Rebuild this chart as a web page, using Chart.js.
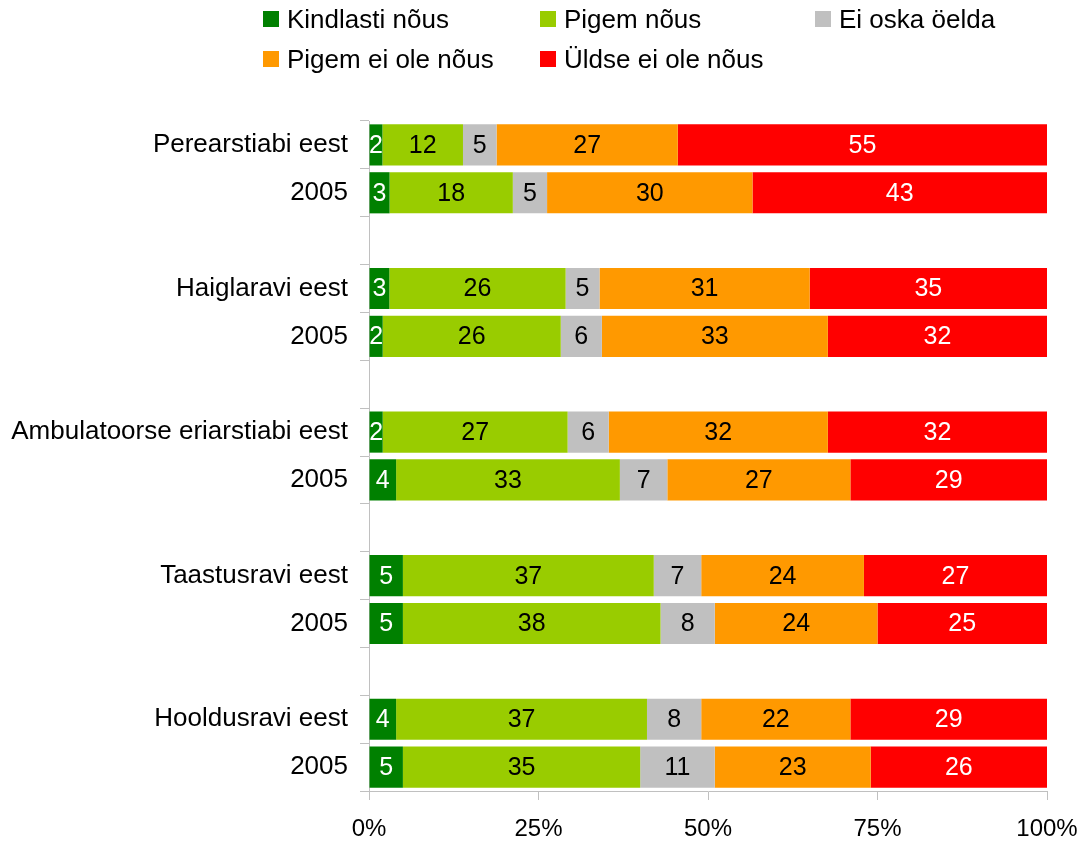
<!DOCTYPE html>
<html>
<head>
<meta charset="utf-8">
<script src="https://cdn.jsdelivr.net/npm/chart.js@4/dist/chart.umd.min.js"></script>
<style>
  body { margin: 0; background: #fff; font-family: "Liberation Sans", Arial, sans-serif; }
  #wrap { position: relative; width: 1085px; height: 841px; }
  #legend { position: absolute; left: 0; top: 0; width: 1085px; height: 90px; }
  .item { position: absolute; display: flex; align-items: center; font-size: 26px; color: #000; white-space: nowrap; }
  .item span.box { width: 16px; height: 16px; margin-right: 8px; display: inline-block; }
</style>
</head>
<body>
<div id="wrap">
  <canvas id="chart" width="1085" height="841"></canvas>
  <div id="legend"></div>
</div>
<script>
// rows with '' are spacer rows between the groups
const categories = ['Perearstiabi eest', '2005', '', 'Haiglaravi eest', '2005', '',
  'Ambulatoorse eriarstiabi eest', '2005', '', 'Taastusravi eest', '2005', '',
  'Hooldusravi eest', '2005'];

const kindlasti = [2, 3, null, 3, 2, null, 2, 4, null, 5, 5, null, 4, 5];
const pigem     = [12, 18, null, 26, 26, null, 27, 33, null, 37, 38, null, 37, 35];
const eiOska    = [5, 5, null, 5, 6, null, 6, 7, null, 7, 8, null, 8, 11];
const pigemEi   = [27, 30, null, 31, 33, null, 32, 27, null, 24, 24, null, 22, 23];
const yldse     = [55, 43, null, 35, 32, null, 32, 29, null, 27, 25, null, 29, 26];

const seriesNames = ['Kindlasti nõus', 'Pigem nõus', 'Ei oska öelda', 'Pigem ei ole nõus', 'Üldse ei ole nõus'];
const xTicks = [0, 25, 50, 75, 100];

const colors = ['#008000', '#99cc00', '#c0c0c0', '#ff9900', '#ff0000'];
const labelColors = ['#ffffff', '#000000', '#000000', '#000000', '#ffffff'];
const raw = [kindlasti, pigem, eiOska, pigemEi, yldse];

// bars are stretched to 100% of each row
const totals = categories.map((c, i) => raw.reduce((s, arr) => s + (arr[i] || 0), 0));
const datasets = raw.map((arr, k) => ({
  label: seriesNames[k],
  data: arr.map((v, i) => v == null ? null : v / totals[i] * 100),
  raw: arr,
  backgroundColor: colors[k],
  borderWidth: 0,
  barPercentage: 0.86,
  categoryPercentage: 1
}));

// legend in three columns like the original
const legendPos = [[263, 19], [540, 19], [815, 19], [263, 59], [540, 59]];
const legendEl = document.getElementById('legend');
seriesNames.forEach((name, k) => {
  const d = document.createElement('div');
  d.className = 'item';
  d.style.left = legendPos[k][0] + 'px';
  d.style.top = (legendPos[k][1] - 15) + 'px';
  d.style.height = '30px';
  d.innerHTML = '<span class="box" style="background:' + colors[k] + '"></span>' + name;
  legendEl.appendChild(d);
});

const valueLabels = {
  id: 'valueLabels',
  afterDatasetsDraw(chart) {
    const ctx = chart.ctx;
    ctx.save();
    ctx.font = '25px "Liberation Sans", Arial, sans-serif';
    ctx.textAlign = 'center';
    ctx.textBaseline = 'middle';
    chart.data.datasets.forEach((ds, k) => {
      chart.getDatasetMeta(k).data.forEach((el, i) => {
        if (ds.raw[i] == null) return;
        const p = el.getCenterPoint();
        ctx.fillStyle = labelColors[k];
        ctx.fillText(String(ds.raw[i]), p.x, p.y + 1);
      });
    });
    ctx.restore();
  }
};

new Chart(document.getElementById('chart'), {
  type: 'bar',
  data: { labels: categories, datasets: datasets },
  plugins: [valueLabels],
  options: {
    indexAxis: 'y',
    responsive: false,
    animation: false,
    layout: { padding: { top: 121, right: 38, left: 0, bottom: 0 } },
    plugins: { legend: { display: false }, tooltip: { enabled: false } },
    scales: {
      x: {
        stacked: true,
        min: 0,
        max: 100,
        afterBuildTicks(scale) { scale.ticks = xTicks.map(v => ({ value: v })); },
        ticks: {
          color: '#000',
          font: { family: '"Liberation Sans", Arial, sans-serif', size: 24 },
          padding: 15,
          maxRotation: 0,
          callback: v => v + '%'
        },
        grid: { drawOnChartArea: false, drawTicks: true, tickLength: 9, color: '#c0c0c0' },
        border: { color: '#c0c0c0' },
        afterFit(scale) {
          scale.height = 50;
          scale.paddingLeft = 0;
          scale.paddingRight = 0;
        }
      },
      y: {
        stacked: true,
        ticks: {
          color: '#000',
          font: { family: '"Liberation Sans", Arial, sans-serif', size: 26 },
          padding: 12
        },
        grid: { drawOnChartArea: false, drawTicks: true, tickLength: 9, color: '#c0c0c0', offset: true },
        border: { color: '#c0c0c0' },
        afterFit(scale) { scale.width = 369; }
      }
    }
  }
});
</script>
</body>
</html>
